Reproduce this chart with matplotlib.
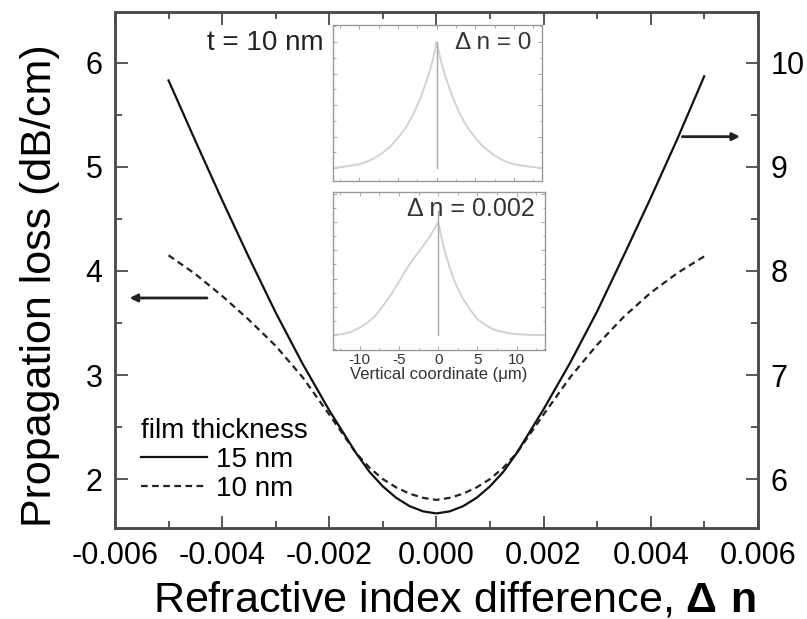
import matplotlib
matplotlib.use("Agg")
import matplotlib.pyplot as plt
from matplotlib.ticker import MultipleLocator, NullFormatter

plt.rcParams['font.family'] = ['Liberation Sans', 'DejaVu Sans']
plt.rcParams['mathtext.fontset'] = 'custom'
plt.rcParams['mathtext.rm'] = 'Liberation Sans'
plt.rcParams['mathtext.bf'] = 'Liberation Sans:bold'
plt.rcParams['axes.unicode_minus'] = False

# ---- main data ----
dn = [-0.005, -0.0045, -0.004, -0.0035, -0.003, -0.0025, -0.002, -0.0015, -0.00125, -0.001,
      -0.00075, -0.0005, -0.00025, 0.0, 0.00025, 0.0005, 0.00075, 0.001, 0.00125, 0.0015,
      0.002, 0.0025, 0.003, 0.0035, 0.004, 0.0045, 0.005]
# 15 nm film (right axis)
loss_15nm = [9.83, 9.25, 8.68, 8.13, 7.60, 7.11, 6.66, 6.25, 6.07, 5.93,
             5.82, 5.74, 5.69, 5.67, 5.69, 5.74, 5.82, 5.93, 6.07, 6.25,
             6.67, 7.12, 7.61, 8.15, 8.70, 9.27, 9.87]
# 10 nm film (left axis)
loss_10nm = [4.15, 3.97, 3.76, 3.53, 3.28, 2.98, 2.62, 2.25, 2.11, 2.00,
             1.92, 1.86, 1.82, 1.80, 1.82, 1.86, 1.92, 2.00, 2.11, 2.25,
             2.62, 2.98, 3.29, 3.56, 3.79, 3.98, 4.14]

x_ticks = [-0.006, -0.004, -0.002, 0.000, 0.002, 0.004, 0.006]
x_ticklabels = ['-0.006', '-0.004', '-0.002', '0.000', '0.002', '0.004', '0.006']
left_ticks = [2, 3, 4, 5, 6]
right_ticks = [6, 7, 8, 9, 10]

# arrows (y level, start x, end x)
arrow_left = (3.74, -0.00423, -0.00578)
arrow_right = (9.29, 0.00454, 0.00572)

# ---- inset data (normalized mode profiles) ----
ix1 = [-13.4, -12, -11, -10, -9, -8, -7, -6, -5, -4, -3, -2, -1, -0.5, 0,
       0.5, 1, 2, 3, 4, 5, 6, 7, 8, 9, 10, 11, 12, 13.6]
iy1 = [0.0, 0.01, 0.02, 0.03, 0.05, 0.08, 0.12, 0.17, 0.24, 0.32, 0.43, 0.57, 0.75, 0.86, 1.0,
       0.86, 0.75, 0.57, 0.43, 0.32, 0.24, 0.17, 0.12, 0.08, 0.05, 0.03, 0.02, 0.01, 0.0]
ix2 = [-13.4, -12, -11, -10, -9, -8, -7, -6, -5, -4, -3, -2, -1, -0.5, 0,
       0.5, 1, 1.5, 2, 2.5, 3, 4, 5, 6, 7, 8, 9, 10, 12, 13.6]
iy2 = [0.0, 0.01, 0.03, 0.065, 0.11, 0.17, 0.26, 0.36, 0.47, 0.59, 0.69, 0.78, 0.88, 0.94, 1.0,
       0.84, 0.70, 0.59, 0.49, 0.41, 0.34, 0.23, 0.14, 0.09, 0.05, 0.03, 0.015, 0.008, 0.0, 0.0]
inset_xticks = [-10, -5, 0, 5, 10]
vline1_top = 1.0
vline2_top = 1.1

# ---- figure ----
fig = plt.figure(figsize=(8.07, 6.19), dpi=100)
ax = fig.add_axes([0.1425, 0.147, 0.7965, 0.834])
ax2 = ax.twinx()

spine_c = '#4a4a4a'
l10, = ax.plot(dn, loss_10nm, color='#222222', lw=1.6, ls=(0, (3, 2)))
l15, = ax2.plot(dn, loss_15nm, color='#111111', lw=1.6)

ax.set_xlim(-0.006, 0.006)
ax.set_ylim(1.53, 6.49)
ax2.set_ylim(5.53, 10.49)

ax.set_xticks(x_ticks)
ax.set_xticklabels(x_ticklabels)
ax.xaxis.set_minor_locator(MultipleLocator(0.001))
ax.set_yticks(left_ticks)
ax.yaxis.set_minor_locator(MultipleLocator(0.5))
ax2.set_yticks(right_ticks)
ax2.yaxis.set_minor_locator(MultipleLocator(0.5))

for a in (ax, ax2):
    for s in a.spines.values():
        s.set_color(spine_c)
        s.set_linewidth(1.8)
ax.tick_params(which='both', direction='in', top=True, right=False, color=spine_c,
               labelsize=22, width=1.3, pad=9)
ax.tick_params(which='major', length=9)
ax.tick_params(which='minor', length=5)
ax2.tick_params(which='both', direction='in', color=spine_c, labelsize=22, width=1.3, pad=9)
ax2.tick_params(which='major', length=9)
ax2.tick_params(which='minor', length=5)

ax.set_ylabel('Propagation loss (dB/cm)', fontsize=31, labelpad=18)
ax.yaxis.label.set_y(0.47)
ax.set_xlabel(r'Refractive index difference, $\mathbf{\Delta\ n}$', fontsize=31, labelpad=7)
ax.xaxis.label.set_x(0.529)

# arrows
ax.annotate('', xy=(arrow_left[2], arrow_left[0]), xytext=(arrow_left[1], arrow_left[0]),
            arrowprops=dict(arrowstyle='-|>', color='#222222', lw=2, mutation_scale=11))
ax2.annotate('', xy=(arrow_right[2], arrow_right[0]), xytext=(arrow_right[1], arrow_right[0]),
             arrowprops=dict(arrowstyle='-|>', color='#222222', lw=2, mutation_scale=11))

ax.text(0.143, 0.94, 't = 10 nm', transform=ax.transAxes, fontsize=20, ha='left', va='center',
        color='#222222')

leg = ax.legend(handles=[l15, l10], labels=['15 nm', '10 nm'], title='film thickness',
                loc='lower left', bbox_to_anchor=(0.0, 0.0), frameon=False, fontsize=20,
                title_fontsize=20, handlelength=2.35, handletextpad=0.35, labelspacing=0.1,
                borderpad=0.45, alignment='left')

# ---- insets ----
gray_frame = '#9a9a9a'
curve_gray = '#d2d2d2'

def style_inset(a, show_labels):
    for s in a.spines.values():
        s.set_color(gray_frame)
        s.set_linewidth(1.0)
    a.set_xlim(-13.4, 13.6)
    a.set_xticks(inset_xticks)
    a.xaxis.set_minor_locator(MultipleLocator(2.5))
    a.yaxis.set_major_locator(MultipleLocator(0.25))
    a.yaxis.set_minor_locator(MultipleLocator(0.125))
    a.yaxis.set_major_formatter(NullFormatter())
    a.tick_params(which='both', direction='in', top=True, right=True, color=gray_frame,
                  width=0.6, labelsize=11, pad=2, labelcolor='#333333')
    a.tick_params(which='major', length=3)
    a.tick_params(which='minor', length=1.8)
    if not show_labels:
        a.xaxis.set_major_formatter(NullFormatter())

in1 = fig.add_axes([0.4126, 0.7076, 0.259, 0.252])
in1.plot(ix1, iy1, color=curve_gray, lw=1.4)
in1.plot([0, 0], [0, vline1_top], color='#a8a8a8', lw=1.0)
in1.set_ylim(-0.103, 1.136)
style_inset(in1, False)
in1.text(0.95, 0.885, 'Δ n = 0', transform=in1.transAxes, fontsize=17.5, ha='right',
         va='center', color='#333333')

in2 = fig.add_axes([0.4126, 0.4346, 0.2627, 0.2553])
in2.plot(ix2, iy2, color=curve_gray, lw=1.4)
in2.plot([0, 0], [0, vline2_top], color='#a8a8a8', lw=1.0)
in2.set_ylim(-0.133, 1.267)
style_inset(in2, True)
in2.text(0.95, 0.895, 'Δ n = 0.002', transform=in2.transAxes, fontsize=18, ha='right',
         va='center', color='#333333')
in2.set_xlabel('Vertical coordinate (μm)', fontsize=12, labelpad=0, color='#333333')

fig.savefig('out.png', dpi=100)
